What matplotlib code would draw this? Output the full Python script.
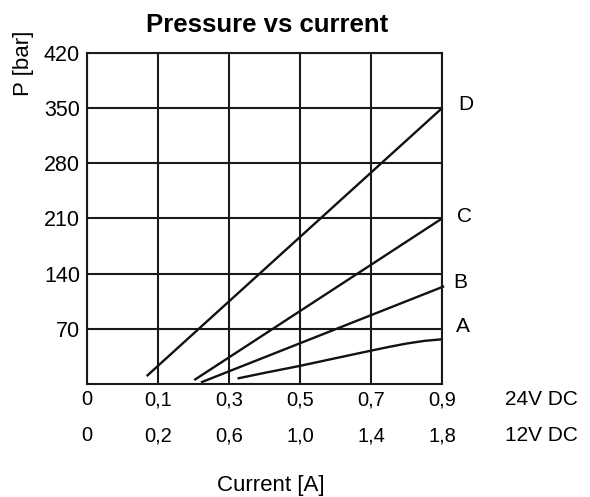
"""Pressure vs current chart for proportional valve curves A-D."""

import matplotlib
import numpy as np

matplotlib.use("Agg")
import matplotlib.pyplot as plt

plt.rcParams["font.family"] = ["Liberation Sans", "DejaVu Sans"]

# tick values on the two current scales (grid positions 0..5)
ticks_24v = [0, 0.1, 0.3, 0.5, 0.7, 0.9]
labels_24v = ["0", "0,1", "0,3", "0,5", "0,7", "0,9"]
labels_12v = ["0", "0,2", "0,6", "1,0", "1,4", "1,8"]
pressure_ticks = [70, 140, 210, 280, 350, 420]

# curves, current in A (24V DC scale), pressure in bar
curve_names = ["A", "B", "C", "D"]
current_a = [0.324, 0.41, 0.5, 0.6, 0.7, 0.75, 0.8, 0.85, 0.9]
pressure_a = [7, 15, 23, 32.7, 42.3, 47, 51.3, 54.7, 56.7]
current_b = [0.221, 0.906]
pressure_b = [2, 124]
current_c = [0.202, 0.9]
pressure_c = [5, 210]
current_d = [0.084, 0.9]
pressure_d = [10, 350]

grid_pos = np.arange(len(ticks_24v))


def to_grid(cur):
    # the printed current scale is not linear at the first division
    cur = np.asarray(cur, dtype=float)
    out = np.interp(cur, ticks_24v, grid_pos)
    over = cur > ticks_24v[-1]
    out[over] = grid_pos[-1] + (cur[over] - ticks_24v[-1]) / 0.2
    return out


fig = plt.figure(figsize=(5.9, 4.97), dpi=100)
ax = fig.add_axes([0.1475, 0.2274, 0.6017, 0.666])

ax.set_xlim(0, 5)
ax.set_ylim(0, 420)
ax.set_xticks(grid_pos)
ax.set_yticks(pressure_ticks)
ax.set_xticklabels([])
ax.set_yticklabels([str(p) for p in pressure_ticks], fontsize=15.5)
ax.tick_params(length=0, pad=5)
ax.grid(True, color="#1a1a1a", linewidth=1.5)
for s in ax.spines.values():
    s.set_linewidth(1.5)
    s.set_color("#1a1a1a")

series = [
    (current_a, pressure_a),
    (current_b, pressure_b),
    (current_c, pressure_c),
    (current_d, pressure_d),
]
for cur, p in series:
    ax.plot(to_grid(cur), p, color="#111111", linewidth=1.7,
            solid_capstyle="butt", solid_joinstyle="round", clip_on=False)

label_x = [5.30, 5.26, 5.32, 5.33]
label_y = [73, 129, 213, 354]
for name, x, y in zip(curve_names, label_x, label_y):
    ax.text(x, y, name, fontsize=15, ha="center", va="center")

trans = ax.get_xaxis_transform()
for pos, l24, l12 in zip(grid_pos, labels_24v, labels_12v):
    ax.text(pos, -0.048, l24, transform=trans, ha="center", va="center",
            fontsize=14.5)
    ax.text(pos, -0.156, l12, transform=trans, ha="center", va="center",
            fontsize=14.5)
ax.text(6.40, -0.048, "24V DC", transform=trans, ha="center", va="center",
        fontsize=15)
ax.text(6.40, -0.156, "12V DC", transform=trans, ha="center", va="center",
        fontsize=15)

fig.text(271 / 590, 1 - 490.7 / 497, "Current [A]", ha="center",
         va="baseline", fontsize=16)
fig.text(23 / 590, 1 - 63 / 497, "P [bar]", ha="center", va="center",
         rotation=90, fontsize=16)
fig.text(267 / 590, 1 - 31.7 / 497, "Pressure vs current", ha="center",
         va="baseline", fontsize=18.5, fontweight="bold")

fig.savefig("out.png", dpi=100)
